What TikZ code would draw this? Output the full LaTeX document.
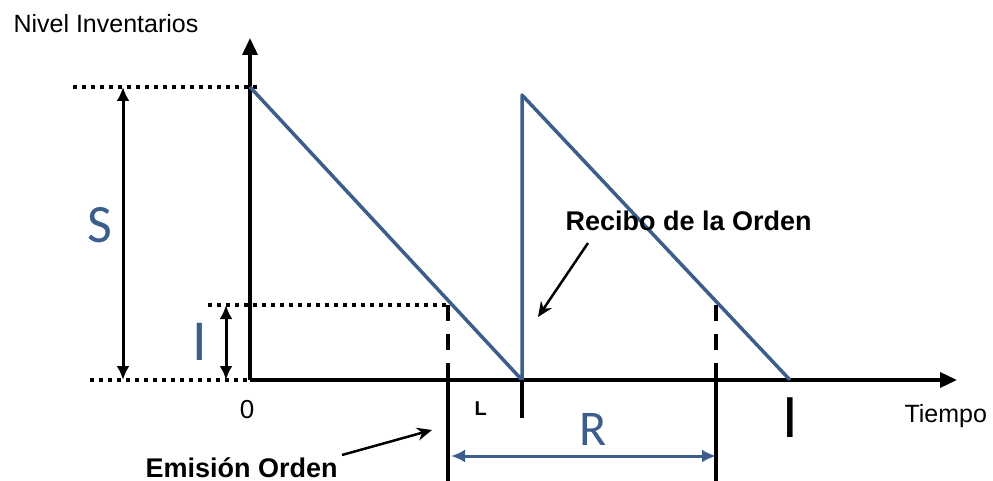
\documentclass[tikz,border=0pt]{standalone}
\usepackage{fontspec}
\setmainfont{Liberation Sans}
\newfontfamily\calibri{Carlito}
\usetikzlibrary{arrows.meta}
\definecolor{invblue}{RGB}{59,94,140}

\begin{document}
\begin{tikzpicture}[
  x=1pt, y=-1pt,
  axis/.style={line width=3.5pt, -{Triangle[length=17pt,width=15pt]}},
  level/.style={line width=3.5pt, draw=invblue, line join=round},
  dots/.style={line width=3.5pt, dash pattern=on 3.5pt off 5.5pt},
  marker/.style={line width=3.5pt, dash pattern=on 16pt off 13pt},
  tick/.style={line width=3.5pt},
  span/.style={line width=3pt, {Latex[length=14pt,width=13pt]}-{Latex[length=14pt,width=13pt]}},
  pointer/.style={line width=2.5pt, -{Stealth[length=15pt,width=13pt]}},
  note/.style={font=\fontsize{27}{30}\selectfont\bfseries},
  lbl/.style={font=\fontsize{25}{28}\selectfont},
  big/.style={font=\fontsize{54}{60}\selectfont\calibri},
  >=latex
]
\useasboundingbox (0,0) rectangle (993,481);

% === Key points (pixel grid, y downwards) ===
\coordinate (O)    at (250,380);
\coordinate (Ytop) at (250,38);
\coordinate (Xend) at (957,380);
\coordinate (Smax) at (250,87);
\coordinate (Rcv)  at (522,380);
\coordinate (Rmax) at (522,95);
\coordinate (End)  at (790,380);
\coordinate (E1)   at (448,305);
\coordinate (E2)   at (716,305);

% === Axes ===
\draw[axis] (O) -- (Ytop);
\draw[axis] (O) -- (Xend);
\node[lbl, anchor=base west] (ylab) at (10,33) {Nivel Inventarios};
\node[lbl, anchor=base west] (xlab) at (901,422) {Tiempo};
\node[lbl, anchor=base, font=\fontsize{26}{28}\selectfont] (zero) at (247,418) {0};

% === Reference levels ===
\draw[dots] (73,87) -- (260,87);
\draw[dots] (208,305) -- (447,305);
\draw[dots] (90,380) -- (277,380);

% S and I spans
\coordinate (Stop) at (123,87);
\coordinate (Sbot) at (123,380);
\coordinate (Itop) at (226,305);
\coordinate (Ibot) at (226,380);
\draw[span] (Stop) -- (Sbot);
\draw[span] (Itop) -- (Ibot);
\node[big, text=invblue, anchor=base] (S) at (100,242) {S};
\node[big, text=invblue, anchor=base, font=\fontsize{58}{60}\selectfont\calibri] (Ilbl) at (200,360) {I};

% === Inventory level ===
\draw[level] (Smax) -- (Rcv) -- (Rmax) -- (End);

% === Order markers ===
\draw[marker] (E1) -- (448,380);
\draw[tick] (448,380) -- (448,481);
\draw[marker] (E2) -- (716,380);
\draw[tick] (716,380) -- (716,481);
\draw[tick] (Rcv) -- (522,418);
\node[big, anchor=base, font=\fontsize{62}{64}\selectfont\calibri] (T) at (790,437) {I};

\node[note, anchor=base west, font=\fontsize{20}{22}\selectfont\bfseries] (L) at (471,415) {L};

% R span
\coordinate (Ra) at (451,456);
\coordinate (Rb) at (716,456);
\draw[span, invblue] (Ra) -- (Rb);
\node[big, text=invblue, anchor=base, font=\fontsize{50}{54}\selectfont\calibri] (R) at (593,445) {R};

% === Annotations ===
\node[note, anchor=base west] (recibo) at (562,230) {Recibo de la Orden};
\node[note, anchor=base west] (emision) at (142,477) {Emisión Orden};
\coordinate (p1) at (588,243);
\coordinate (p2) at (538,317);
\coordinate (q1) at (342,455);
\coordinate (q2) at (432,430);
\draw[pointer] (p1) -- (p2);
\draw[pointer] (q1) -- (q2);
\end{tikzpicture}
\end{document}
